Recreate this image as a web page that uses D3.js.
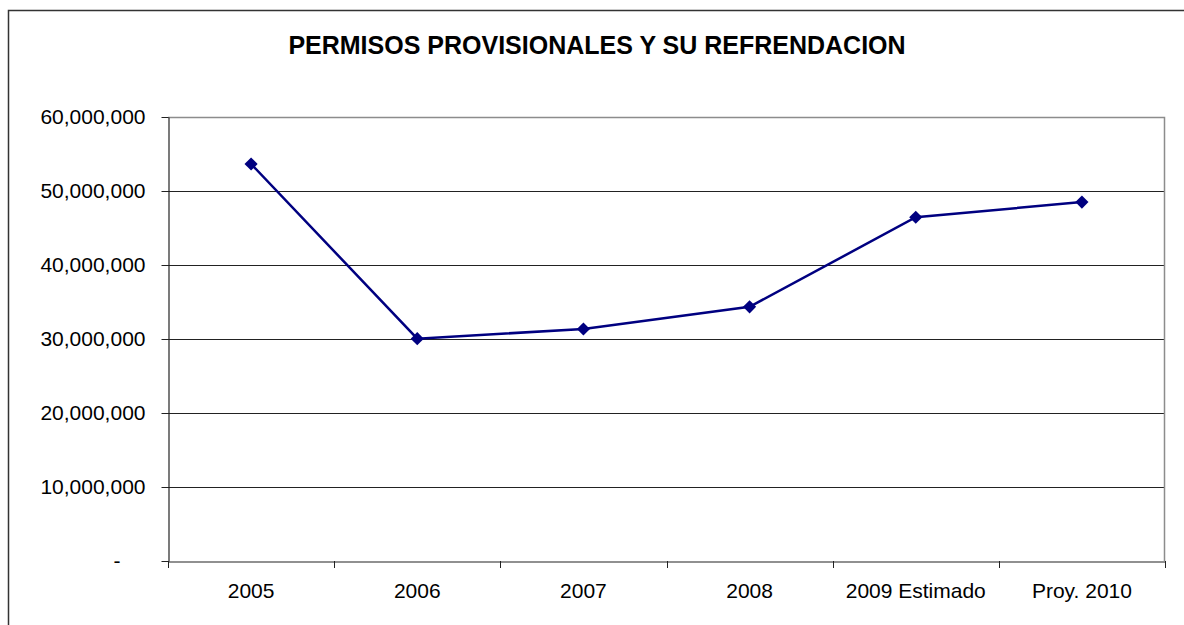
<!DOCTYPE html>
<html><head><meta charset="utf-8">
<script src="https://cdn.jsdelivr.net/npm/d3@7"></script>
<style>body{margin:0;background:#fff}svg{display:block}</style>
</head><body>
<svg id="c" width="1184" height="625"></svg>
<script>
const categories = ["2005", "2006", "2007", "2008", "2009 Estimado", "Proy. 2010"];
const values = [53650000, 30050000, 31350000, 34350000, 46450000, 48500000];
const yTicks = [0, 10000000, 20000000, 30000000, 40000000, 50000000, 60000000];
const title = "PERMISOS PROVISIONALES Y SU REFRENDACION";

const svg = d3.select("#c");
const font = "Liberation Sans, Arial, sans-serif";
const L = 168, R = 1165, T = 117, B = 561;

// outer chart border (extends past canvas right/bottom)
svg.append("path").attr("d", `M8.5,640 V10.5 H1200`).attr("fill", "none")
  .attr("stroke", "#333").attr("stroke-width", 1.5);

svg.append("text").attr("x", 597).attr("y", 54).attr("text-anchor", "middle")
  .attr("font-family", font).attr("font-weight", "bold").attr("font-size", 25)
  .attr("fill", "#000").text(title);

const x = d3.scaleBand().domain(categories).range([L, R]).padding(0);
const y = d3.scaleLinear().domain([0, 60000000]).range([B, T]);

// gridlines
svg.append("g").selectAll("line").data(yTicks.filter(v => v > 0 && v < 60000000)).join("line")
  .attr("x1", L).attr("x2", R).attr("y1", d => Math.round(y(d)) + 0.5).attr("y2", d => Math.round(y(d)) + 0.5)
  .attr("stroke", "#222").attr("stroke-width", 1);

// plot border top/right gray
svg.append("path").attr("d", `M${L},${T + 0.5} H${R - 0.5} V${B}`).attr("fill", "none")
  .attr("stroke", "#8c8c8c").attr("stroke-width", 1.5);

// y axis
const fmt = d => d === 0 ? "-" : d3.format(",")(d);
const yAxis = svg.append("g").attr("transform", `translate(${L + 0.5},0)`)
  .call(d3.axisLeft(y).tickValues(yTicks).tickFormat(fmt).tickSizeInner(7).tickSizeOuter(0).tickPadding(16));
yAxis.select(".domain").attr("stroke", "#222").attr("stroke-width", 1.2);
yAxis.selectAll(".tick line").attr("stroke", "#222");
yAxis.selectAll("text").attr("font-family", font).attr("font-size", 21).attr("fill", "#000");
yAxis.selectAll(".tick").filter(d => d === 0).select("text").attr("dx", -25);

// x axis
const xAxis = svg.append("g").attr("transform", `translate(0,${B + 0.5})`)
  .call(d3.axisBottom(x).tickSize(0).tickPadding(22));
xAxis.select(".domain").attr("stroke", "#222").attr("stroke-width", 1.2);
xAxis.selectAll("text").attr("font-family", font).attr("font-size", 21).attr("fill", "#000");
// band boundary ticks
const bounds = categories.map(c => x(c)).concat([R]);
svg.append("g").selectAll("line").data(bounds).join("line")
  .attr("x1", d => Math.round(d) + 0.5).attr("x2", d => Math.round(d) + 0.5)
  .attr("y1", B).attr("y2", B + 7).attr("stroke", "#222");

// line
const cx = c => x(c) + x.bandwidth() / 2;
const pts = categories.map((c, i) => [cx(c), y(values[i])]);
svg.append("path").attr("d", d3.line()(pts)).attr("fill", "none")
  .attr("stroke", "#000080").attr("stroke-width", 2.5);
svg.append("g").selectAll("path").data(pts).join("path")
  .attr("d", d3.symbol(d3.symbolDiamond2, 110)())
  .attr("transform", d => `translate(${d[0]},${d[1]})`)
  .attr("fill", "#000080");
</script>
</body></html>
